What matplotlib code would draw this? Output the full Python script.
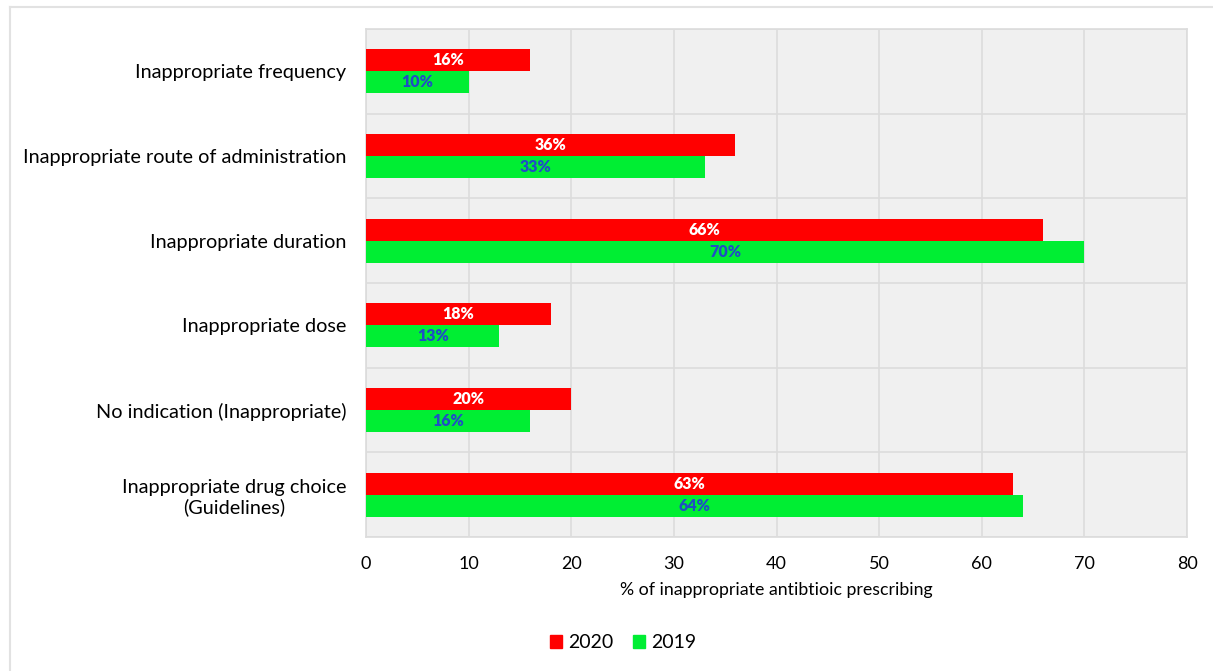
import matplotlib
matplotlib.use("Agg")
import matplotlib.pyplot as plt
from matplotlib.patches import Rectangle
from matplotlib.lines import Line2D
import numpy as np

plt.rcParams['font.family'] = ['Lato', 'DejaVu Sans']

categories = [
    "Inappropriate frequency",
    "Inappropriate route of administration",
    "Inappropriate duration",
    "Inappropriate dose",
    "No indication (Inappropriate)",
    "Inappropriate drug choice\n(Guidelines)",
]
values_2020 = [16, 36, 66, 18, 20, 63]
values_2019 = [10, 33, 70, 13, 16, 64]
series_labels = ["2020", "2019"]
x_ticks = [0, 10, 20, 30, 40, 50, 60, 70, 80]

red = "#ff0000"
green = "#00ee33"
label_blue = "#1f4fc4"

fig = plt.figure(figsize=(12.13, 6.71), dpi=100)
fig.patch.set_facecolor("white")

# thin outer frame on the left and top
fig.add_artist(Line2D([10 / 1213, 10 / 1213], [0, 1 - 7 / 671], transform=fig.transFigure,
                      color="#e2e2e2", lw=1.5))
fig.add_artist(Line2D([10 / 1213, 1], [1 - 7 / 671, 1 - 7 / 671], transform=fig.transFigure,
                      color="#e2e2e2", lw=1.5))

ax = fig.add_axes([366 / 1213, 1 - 537 / 671, (1187 - 366) / 1213, (537 - 29) / 671])
ax.set_facecolor("#f0f0f0")

n = len(categories)
y = np.arange(n)
h = 0.26
bars20 = ax.barh(y - h / 2, values_2020, height=h, color=red, zorder=3)
bars19 = ax.barh(y + h / 2, values_2019, height=h, color=green, zorder=3)

for b, v in zip(bars20, values_2020):
    ax.text(v / 2, b.get_y() + b.get_height() / 2, f"{v}%", ha="center", va="center",
            color="white", fontsize=11.5, fontweight="heavy", zorder=4)
for b, v in zip(bars19, values_2019):
    ax.text(v / 2, b.get_y() + b.get_height() / 2, f"{v}%", ha="center", va="center",
            color=label_blue, fontsize=11.5, fontweight="heavy", zorder=4)

ax.set_ylim(n - 0.5, -0.5)
ax.set_xlim(0, 80)
ax.set_xticks(x_ticks)
ax.set_xticklabels([str(t) for t in x_ticks], fontsize=13)
ax.set_yticks(y)
ax.set_yticklabels(categories, fontsize=14.3, multialignment="center")
ax.tick_params(axis="both", length=0)
ax.tick_params(axis="x", pad=14)
ax.tick_params(axis="y", pad=14)

# vertical gridlines at ticks, horizontal separators between categories
for t in x_ticks:
    ax.axvline(t, color="#dcdcdc", lw=1.2, zorder=1)
for b in np.arange(-0.5, n, 1.0):
    ax.axhline(b, color="#dcdcdc", lw=1.2, zorder=1)

for s in ax.spines.values():
    s.set_color("#dcdcdc")
    s.set_linewidth(1.2)

ax.set_xlabel("% of inappropriate antibtioic prescribing", fontsize=12.8, labelpad=7)

handles = [Rectangle((0, 0), 1, 1, color=red), Rectangle((0, 0), 1, 1, color=green)]
fig.legend(handles, series_labels, loc="center", bbox_to_anchor=(623 / 1213, 1 - 643 / 671),
           ncol=2, frameon=False, fontsize=14, handlelength=0.65, handleheight=0.65,
           handletextpad=0.3, columnspacing=1.0)

fig.savefig("out.png", dpi=100, facecolor="white")
